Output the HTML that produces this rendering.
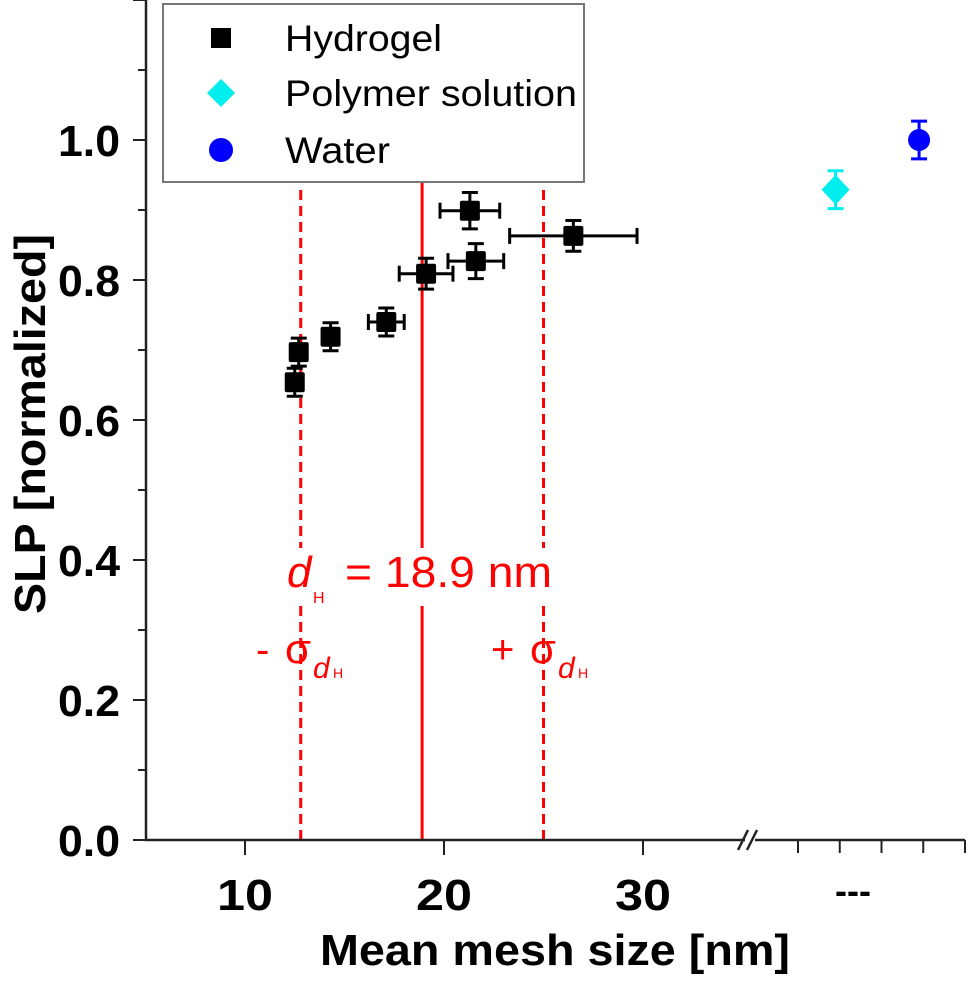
<!DOCTYPE html>
<html><head><meta charset="utf-8"><style>
body{margin:0;background:#fff}
svg text{font-family:"Liberation Sans",Arial,sans-serif}
</style></head><body>
<svg id="chart" width="971" height="980" viewBox="0 0 971 980" xmlns="http://www.w3.org/2000/svg">
</svg>
<script>
const hydroX=[21.3,26.5,21.6,19.1,17.1,14.3,12.7,12.5];
const hydroY=[0.899,0.863,0.827,0.809,0.740,0.719,0.697,0.654];
const hydroXErr=[1.5,3.2,1.4,1.35,0.9,0.3,0.3,0.3];
const hydroYErr=[0.026,0.022,0.025,0.022,0.02,0.02,0.02,0.02];
const otherNames=["Polymer solution","Water"];
const otherX=[0.9,2.9];
const otherY=[0.929,1.0];
const otherYErr=[0.027,0.027];
const yTicks=[0.0,0.2,0.4,0.6,0.8,1.0];
const xTicks=[10,20,30];
const dH=18.9, sigma=6.1;
const NS="http://www.w3.org/2000/svg";
const svg=document.getElementById('chart');
const X=v=>245+(v-10)*19.9;
const X2=v=>798+v*41.75;
const Y=v=>840-v*700;
function el(t,a,p){const e=document.createElementNS(NS,t);for(const k in a)e.setAttribute(k,a[k]);(p||svg).appendChild(e);return e;}
let l=el('line',{x1:X(dH),x2:X(dH),y1:182,y2:840,stroke:'#f00','stroke-width':3});

[dH-sigma,dH+sigma].forEach((v,i)=>{const d=el('line',{x1:X(v),x2:X(v),y1:190,y2:840,stroke:'#f00','stroke-width':3,'stroke-dasharray':'10 6'});

});
let ax=el('path',{d:'M146 0 V840 H745 M755 840 H965',stroke:'#222','stroke-width':2.5,fill:'none'});

el('path',{d:'M738 850 L748 830 M747 850 L757 830',stroke:'#222','stroke-width':2.5,fill:'none'});
for(let v=0;v<=1.2001;v+=0.1){const big=Math.round(v*10)%2==0;el('line',{x1:big?133:138,x2:146,y1:Y(v),y2:Y(v),stroke:'#222','stroke-width':2});}
const LA='spacingAndGlyphs';
yTicks.forEach(v=>{const t=el('text',{x:120,y:Y(v)+16,'text-anchor':'end','font-size':44,'font-weight':'bold',textLength:62,lengthAdjust:LA});t.textContent=v.toFixed(1);
});
xTicks.forEach(v=>{el('line',{x1:X(v),x2:X(v),y1:840,y2:855,stroke:'#222','stroke-width':2});
const t=el('text',{x:X(v),y:910,'text-anchor':'middle','font-size':44,'font-weight':'bold',textLength:56,lengthAdjust:LA});t.textContent=v;
});
[0,1,2,3,4].forEach(i=>el('line',{x1:X2(i),x2:X2(i),y1:840,y2:853,stroke:'#222','stroke-width':2}));
let dd=el('text',{x:853,y:903,'text-anchor':'middle','font-size':36,'font-weight':'bold'});dd.textContent='---';

let xt=el('text',{x:555,y:965,'text-anchor':'middle','font-size':44,'font-weight':'bold',textLength:470,lengthAdjust:LA});xt.textContent='Mean mesh size [nm]';

let yt=el('text',{x:0,y:0,'text-anchor':'middle','font-size':44,'font-weight':'bold',textLength:380,lengthAdjust:LA,transform:'translate(45,424) rotate(-90)'});yt.textContent='SLP [normalized]';

el('rect',{x:282,y:548,width:278,height:58,fill:'#fff'});
const ag=el('g',{fill:'#f00'});
let t1=el('text',{x:287,y:587,'font-size':44,'font-style':'italic'},ag);t1.textContent='d';
let t2=el('text',{x:313,y:603,'font-size':16},ag);t2.textContent='H';
let t3=el('text',{x:345,y:587,'font-size':44,textLength:207,lengthAdjust:LA},ag);t3.textContent='= 18.9 nm';
function sig(x0,sign,off,name){const g=el('g',{fill:'#f00'});
const s=el('text',{x:x0,y:663,'font-size':40},g);s.textContent=sign;
const a=el('text',{x:x0+off,y:663,'font-size':42},g);a.textContent='σ';
const b=el('text',{x:x0+off+28,y:678,'font-size':30,'font-style':'italic'},g);b.textContent='d';
const c=el('text',{x:x0+off+48,y:678,'font-size':14},g);c.textContent='H';}
sig(256,'-',29,'minus-sigma-label');
sig(491,'+',39,'plus-sigma-label');
function errbar(cx,cy,x0,x1,y0,y1,col){const g=el('g',{stroke:col,'stroke-width':3,fill:'none'});
if(x1-x0>2){el('line',{x1:x0,x2:x1,y1:cy,y2:cy},g);el('line',{x1:x0,x2:x0,y1:cy-8,y2:cy+8},g);el('line',{x1:x1,x2:x1,y1:cy-8,y2:cy+8},g);}
el('line',{x1:cx,x2:cx,y1:y0,y2:y1},g);el('line',{x1:cx-8,x2:cx+8,y1:y0,y2:y0},g);el('line',{x1:cx-8,x2:cx+8,y1:y1,y2:y1},g);return g;}
hydroX.forEach((v,i)=>{const cx=X(v),cy=Y(hydroY[i]);
const g=errbar(cx,cy,X(v-hydroXErr[i]),X(v+hydroXErr[i]),Y(hydroY[i]+hydroYErr[i]),Y(hydroY[i]-hydroYErr[i]),'#000');

const r=el('rect',{x:cx-10,y:cy-10,width:20,height:20,fill:'#000',rx:2});
});
otherX.forEach((v,i)=>{const cx=X2(v),cy=Y(otherY[i]);const col=i?'#0000ff':'#00eeee';
const g=errbar(cx,cy,cx,cx,Y(otherY[i]+otherYErr[i]),Y(otherY[i]-otherYErr[i]),col);

let m;if(i)m=el('circle',{cx:cx,cy:cy,r:11,fill:col});else m=el('path',{d:`M${cx} ${cy-15} L${cx+14} ${cy} L${cx} ${cy+15} L${cx-14} ${cy}Z`,fill:col});
});
const lg=el('g',{});
el('rect',{x:163,y:4,width:421,height:178,fill:'#fff',stroke:'#777','stroke-width':2},lg);
const labels=['Hydrogel'].concat(otherNames);
const legLen=[157,292,105];
labels.forEach((s,i)=>{const cy=[38,93,150][i];
if(i==0)el('rect',{x:211,y:cy-10,width:20,height:20,fill:'#000'},lg);
else if(i==1)el('path',{d:`M221 ${cy-14} L235 ${cy} L221 ${cy+14} L207 ${cy}Z`,fill:'#00eeee'},lg);
else el('circle',{cx:221,cy:cy,r:12,fill:'#0000ff'},lg);
const t=el('text',{x:285,y:cy+13,'font-size':37,textLength:legLen[i],lengthAdjust:LA},lg);t.textContent=s;
});
</script>
</body></html>
